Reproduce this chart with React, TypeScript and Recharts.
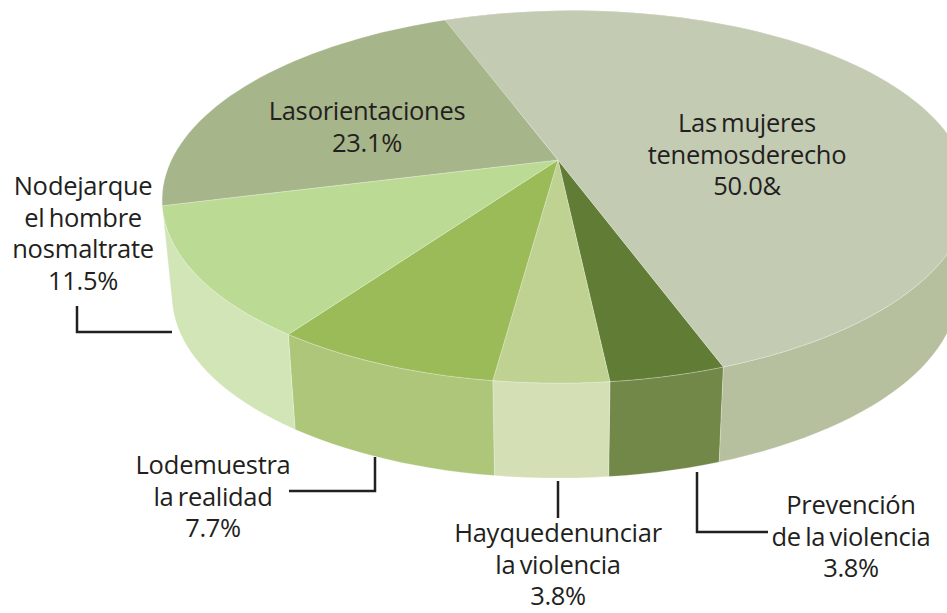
import { PieChart, Pie } from "recharts";

const categories = [
  "Prevención de la violencia",
  "Hay que denunciar la violencia",
  "Lo demuestra la realidad",
  "No dejar que el hombre nos maltrate",
  "Las orientaciones",
  "Las mujeres tenemos derecho",
];
const values = [3.8, 3.8, 7.7, 11.5, 23.1, 50.0];
const topColors = ["#617c35", "#bfd292", "#9bbb59", "#bbdb95", "#a7b58b", "#c4cbb3"];
// the orientaciones slice sits at the back, its wall is never seen
const wallColors = ["#728848", "#d4dfb5", "#aec67a", "#d1e5b7", "none", "#b6c09e"];

const topData = categories.map((name, i) => ({ name, value: values[i], fill: topColors[i] }));
const wallData = categories.map((name, i) => ({ name, value: values[i], fill: wallColors[i] }));

const labels = [
  { lines: ["Las orientaciones", "23.1%"], x: 367, y: 120 },
  { lines: ["Las mujeres", "tenemos derecho", "50.0&"], x: 747, y: 132 },
  { lines: ["No dejar que", "el hombre", "nos maltrate", "11.5%"], x: 83, y: 195 },
  { lines: ["Lo demuestra", "la realidad", "7.7%"], x: 213, y: 474 },
  { lines: ["Hay que denunciar", "la violencia", "3.8%"], x: 558, y: 542 },
  { lines: ["Prevención", "de la violencia", "3.8%"], x: 851, y: 514 },
];
const tightLines = ["Las orientaciones", "tenemos derecho", "No dejar que", "nos maltrate", "Lo demuestra", "Hay que denunciar"];
const leaders = [
  "77,306 77,332 172,332",
  "289,491 375,491 375,457",
  "558,481 558,518",
  "697,472 697,532 768,532",
];

// perspective of the pie disc, centred on the apex of the slices
const APEX_X = 558;
const APEX_Y = 160;
const DEPTH = 95;

const project = (deg: number, shrink = 1, drop = 0) => {
  const a = (deg * Math.PI) / 180;
  const u = Math.cos(a);
  const v = -Math.sin(a);
  const w = 1 - 0.1927 * u - 0.05 * v;
  const px = (133.5 * u - 372 * v) / w;
  const py = (167.1 * u + 64 * v) / w;
  return [APEX_X + px * shrink, APEX_Y + py + drop];
};

const arcPoints = (start: number, end: number, shrink = 1, drop = 0) => {
  const steps = Math.max(2, Math.ceil(Math.abs(end - start) / 2));
  const pts: number[][] = [];
  for (let i = 0; i <= steps; i++) {
    pts.push(project(start + ((end - start) * i) / steps, shrink, drop));
  }
  return pts;
};

const toPath = (pts: number[][]) =>
  pts.map((p, i) => `${i ? "L" : "M"}${p[0].toFixed(1)},${p[1].toFixed(1)}`).join(" ");

const TopSlice = (props: any) => {
  const rim = arcPoints(props.startAngle, props.endAngle);
  return (
    <path
      d={`${toPath(rim)} L${APEX_X},${APEX_Y} Z`}
      fill={props.fill}
      stroke="#ffffff"
      strokeOpacity={0.4}
      strokeWidth={0.6}
    />
  );
};

const WallSlice = (props: any) => {
  if (props.fill === "none") return null;
  const upper = arcPoints(props.startAngle, props.endAngle);
  const lower = arcPoints(props.endAngle, props.startAngle, 0.975, DEPTH);
  return (
    <path
      d={`${toPath(upper)} ${toPath(lower).replace("M", "L")} Z`}
      fill={props.fill}
      stroke="#ffffff"
      strokeOpacity={0.4}
      strokeWidth={0.6}
    />
  );
};

export default function App() {
  return (
    <div style={{ position: "absolute", left: 0, top: 0, width: 947, height: 613, overflow: "hidden", background: "#ffffff" }}>
      <PieChart width={947} height={613} margin={{ top: 0, right: 0, bottom: 0, left: 0 }}>
        <Pie
          data={wallData}
          dataKey="value"
          nameKey="name"
          startAngle={0}
          endAngle={-360}
          paddingAngle={0}
          shape={WallSlice}
          isAnimationActive={false}
        />
        <Pie
          data={topData}
          dataKey="value"
          nameKey="name"
          startAngle={0}
          endAngle={-360}
          paddingAngle={0}
          shape={TopSlice}
          isAnimationActive={false}
        />
      </PieChart>
      <svg width={947} height={613} style={{ position: "absolute", left: 0, top: 0 }}>
        {leaders.map((points) => (
          <polyline key={points} points={points} fill="none" stroke="#231f20" strokeWidth={2.5} />
        ))}
        {labels.map((label) => (
          <text
            key={label.lines[0]}
            textAnchor="middle"
            fontFamily="'Open Sans', sans-serif"
            fontSize={25.5}
            fill="#231f20"
            style={{ letterSpacing: "-0.3px" }}
          >
            {label.lines.map((line, i) => (
              <tspan
                key={line}
                x={label.x}
                y={label.y + i * 31.5}
                style={{ wordSpacing: tightLines.includes(line) ? "-6px" : "-2px" }}
              >
                {line}
              </tspan>
            ))}
          </text>
        ))}
      </svg>
    </div>
  );
}
